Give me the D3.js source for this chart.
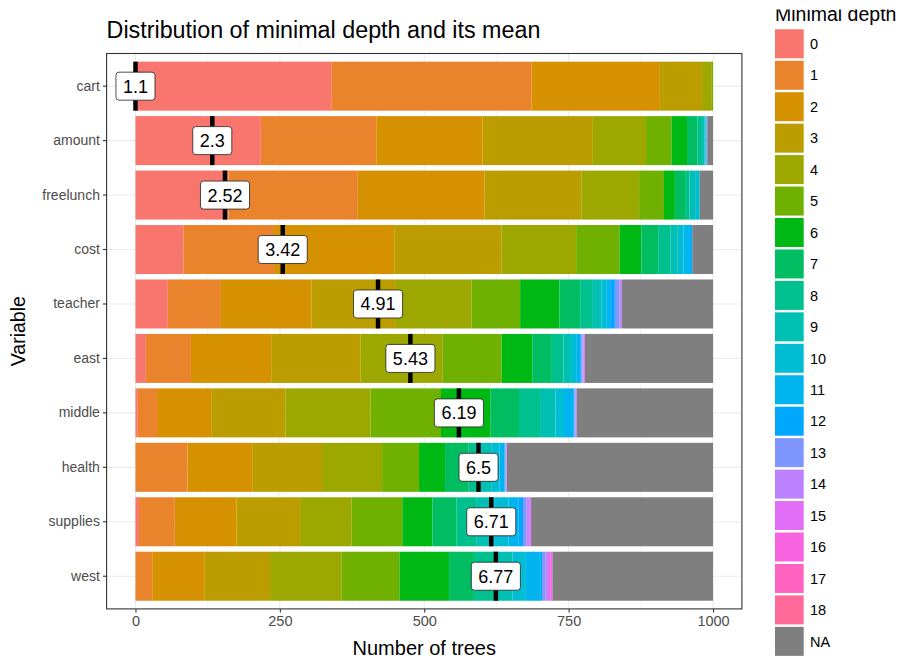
<!DOCTYPE html>
<html>
<head>
<meta charset="utf-8">
<script src="https://cdn.jsdelivr.net/npm/d3@7"></script>
<style>
  body { margin: 0; background: #fff; }
  svg text { font-family: "Liberation Sans", Arial, sans-serif; }
</style>
</head>
<body>
<svg id="chart" width="899" height="659"></svg>
<script>
'use strict';

// categories (top to bottom) and depth levels
var variables = ['cart', 'amount', 'freelunch', 'cost', 'teacher', 'east', 'middle', 'health', 'supplies', 'west'];
var depthLevels = ['0', '1', '2', '3', '4', '5', '6', '7', '8', '9', '10', '11', '12', '13', '14', '15', '16', '17', '18', 'NA'];

// number of trees per minimal depth (0..18, NA)
var cart      = [339, 347, 222, 73, 17, 2, 0, 0, 0, 0, 0, 0, 0, 0, 0, 0, 0, 0, 0, 0];
var amount    = [217, 200, 184, 191, 92, 44, 27, 18, 8, 4, 2, 1, 1, 1, 0, 0, 0, 0, 0, 10];
var freelunch = [161, 224, 219, 168, 100, 43, 19, 19, 6, 10, 8, 0, 0, 0, 0, 0, 0, 0, 0, 23];
var cost      = [83, 157, 208, 186, 129, 75, 38, 29, 21, 13, 10, 11, 4, 0, 0, 0, 0, 0, 0, 36];
var teacher   = [56, 92, 157, 146, 131, 84, 68, 36, 22, 15, 8, 7, 8, 8, 4, 0, 0, 0, 0, 158];
var east      = [18, 78, 139, 155, 142, 102, 53, 34, 20, 13, 9, 7, 2, 2, 2, 2, 0, 0, 0, 222];
var middle    = [4, 35, 92, 129, 147, 122, 86, 49, 38, 25, 15, 16, 2, 2, 2, 0, 0, 0, 0, 236];
var health    = [0, 90, 112, 121, 104, 64, 45, 41, 20, 20, 13, 9, 1, 1, 1, 1, 0, 0, 0, 357];
var supplies  = [6, 62, 107, 110, 89, 88, 52, 42, 35, 30, 25, 17, 8, 6, 5, 3, 0, 0, 0, 315];
var west      = [0, 29, 91, 113, 124, 100, 86, 43, 35, 32, 23, 26, 2, 6, 4, 5, 3, 0, 0, 278];

// mean minimal depth labels and where their markers sit (in trees)
var meanLabels = ['1.1', '2.3', '2.52', '3.42', '4.91', '5.43', '6.19', '6.5', '6.71', '6.77'];
var meanPos = [0, 133, 155, 255, 420, 476, 560, 594, 616, 624];

var xTicks = [0, 250, 500, 750, 1000];
var xMinor = [125, 375, 625, 875];

var countsByVar = [cart, amount, freelunch, cost, teacher, east, middle, health, supplies, west];

// ggplot-like hue palette (polar LUV, l = 65, c = 100)
function polarLuv(L, C, H) {
  var h = H * Math.PI / 180;
  var U = C * Math.cos(h), V = C * Math.sin(h);
  var Xn = 95.047, Yn = 100, Zn = 108.883;
  var un = 4 * Xn / (Xn + 15 * Yn + 3 * Zn), vn = 9 * Yn / (Xn + 15 * Yn + 3 * Zn);
  var Y = L > 8 ? Yn * Math.pow((L + 16) / 116, 3) : Yn * L / 903.3;
  var u = U / (13 * L) + un, v = V / (13 * L) + vn;
  var X = Y * 9 * u / (4 * v);
  var Z = Y * (12 - 3 * u - 20 * v) / (4 * v);
  var x = X / 100, y = Y / 100, z = Z / 100;
  var lin = [3.240479 * x - 1.537150 * y - 0.498535 * z,
             -0.969256 * x + 1.875992 * y + 0.041556 * z,
             0.055648 * x - 0.204043 * y + 1.057311 * z];
  var g = function (c) {
    c = c <= 0.0031308 ? 12.92 * c : 1.055 * Math.pow(c, 1 / 2.4) - 0.055;
    return Math.round(255 * Math.max(0, Math.min(1, c)));
  };
  return d3.rgb(g(lin[0]), g(lin[1]), g(lin[2])).formatHex();
}
var nHue = depthLevels.length - 1;
var palette = depthLevels.map(function (d, i) {
  return d === 'NA' ? '#7F7F7F' : polarLuv(65, 100, 15 + 360 * i / nHue);
});
var color = d3.scaleOrdinal().domain(depthLevels).range(palette);

// table for stacking
var table = variables.map(function (v, i) {
  var row = { variable: v };
  depthLevels.forEach(function (d, j) { row[d] = countsByVar[i][j]; });
  return row;
});
var series = d3.stack().keys(depthLevels)(table);

//Parameters for svg element
var panel = { left: 106.6, right: 741.9, top: 53.5, bottom: 608.9 };
var svg = d3.select('#chart');
svg.append('rect').attr('width', 899).attr('height', 659).attr('fill', '#fff');

//Scales
var xScale = d3.scaleLinear().domain([-50, 1050]).range([panel.left, panel.right]);
var yScale = d3.scaleBand().domain(variables).range([panel.top, panel.bottom])
  .paddingInner(0.1).paddingOuter(0.15);

//Grid
var grid = svg.append('g');
grid.selectAll('line.minor').data(xMinor).enter().append('line')
  .attr('x1', function (d) { return xScale(d); }).attr('x2', function (d) { return xScale(d); })
  .attr('y1', panel.top).attr('y2', panel.bottom)
  .attr('stroke', '#EBEBEB').attr('stroke-width', 0.6);
grid.selectAll('line.major').data(xTicks).enter().append('line')
  .attr('x1', function (d) { return xScale(d); }).attr('x2', function (d) { return xScale(d); })
  .attr('y1', panel.top).attr('y2', panel.bottom)
  .attr('stroke', '#EBEBEB').attr('stroke-width', 1.1);
grid.selectAll('line.ymajor').data(variables).enter().append('line')
  .attr('x1', panel.left).attr('x2', panel.right)
  .attr('y1', function (d) { return yScale(d) + yScale.bandwidth() / 2; })
  .attr('y2', function (d) { return yScale(d) + yScale.bandwidth() / 2; })
  .attr('stroke', '#EBEBEB').attr('stroke-width', 1.1);

//Bars
svg.append('g').selectAll('g').data(series).enter().append('g')
  .attr('fill', function (s) { return color(s.key); })
  .selectAll('rect').data(function (s) { return s; }).enter().append('rect')
  .attr('x', function (d) { return xScale(d[0]); })
  .attr('width', function (d) { return Math.max(0, xScale(d[1]) - xScale(d[0])); })
  .attr('y', function (d) { return yScale(d.data.variable); })
  .attr('height', yScale.bandwidth());

//Mean markers
svg.append('g').selectAll('line').data(variables).enter().append('line')
  .attr('x1', function (d, i) { return xScale(meanPos[i]); })
  .attr('x2', function (d, i) { return xScale(meanPos[i]); })
  .attr('y1', function (d) { return yScale(d); })
  .attr('y2', function (d) { return yScale(d) + yScale.bandwidth(); })
  .attr('stroke', '#000').attr('stroke-width', 4.5);

//Mean labels
var labels = svg.append('g').selectAll('g').data(variables).enter().append('g')
  .attr('transform', function (d, i) {
    return 'translate(' + xScale(meanPos[i]) + ',' + (yScale(d) + yScale.bandwidth() / 2) + ')';
  });
var labelRects = labels.append('rect').attr('fill', '#fff').attr('stroke', '#222')
  .attr('stroke-width', 0.8).attr('rx', 3).attr('ry', 3);
var labelTexts = labels.append('text').attr('text-anchor', 'middle').attr('dy', '0.36em')
  .style('font-size', '18px').attr('fill', '#000')
  .text(function (d, i) { return meanLabels[i]; });
labelTexts.each(function (d, i) {
  var w = this.getComputedTextLength() + 14;
  d3.select(labelRects.nodes()[i]).attr('x', -w / 2).attr('width', w).attr('y', -14).attr('height', 28);
});

//Panel border
svg.append('rect').attr('x', panel.left).attr('y', panel.top)
  .attr('width', panel.right - panel.left).attr('height', panel.bottom - panel.top)
  .attr('fill', 'none').attr('stroke', '#333').attr('stroke-width', 1.1);

//Draw x-axis
var xAxis = svg.append('g').attr('transform', 'translate(0,' + panel.bottom + ')')
  .call(d3.axisBottom(xScale).tickValues(xTicks).tickSize(3.7).tickPadding(3).tickFormat(d3.format('d')));
xAxis.select('.domain').remove();
xAxis.selectAll('line').attr('stroke', '#333').attr('stroke-width', 1.1);
xAxis.selectAll('text').style('font-size', '14.5px').attr('fill', '#4D4D4D');

//Draw y-axis
var yAxis = svg.append('g').attr('transform', 'translate(' + panel.left + ',0)')
  .call(d3.axisLeft(yScale).tickSize(3.7).tickPadding(3));
yAxis.select('.domain').remove();
yAxis.selectAll('line').attr('stroke', '#333').attr('stroke-width', 1.1);
yAxis.selectAll('text').style('font-size', '14px').attr('fill', '#4D4D4D');

//Axis titles
svg.append('text').attr('x', (panel.left + panel.right) / 2).attr('y', 655)
  .attr('text-anchor', 'middle').style('font-size', '20px').text('Number of trees');
svg.append('text').attr('transform', 'rotate(-90)')
  .attr('x', -(panel.top + panel.bottom) / 2).attr('y', 25)
  .attr('text-anchor', 'middle').style('font-size', '19.5px').text('Variable');

//Title
svg.append('text').attr('x', panel.left).attr('y', 38)
  .style('font-size', '23.3px').text('Distribution of minimal depth and its mean');

//Legend
var legend = svg.append('g').attr('transform', 'translate(775,0)');
svg.append('clipPath').attr('id', 'legend-clip').append('rect')
  .attr('x', 0).attr('y', 9.5).attr('width', 200).attr('height', 30);
legend.append('text').attr('x', 0).attr('y', 20.7).attr('clip-path', 'url(#legend-clip)')
  .style('font-size', '19.5px').text('Minimal depth');
var keys = legend.selectAll('g').data(depthLevels).enter().append('g')
  .attr('transform', function (d, i) { return 'translate(0,' + (29.3 + i * 31.45) + ')'; });
keys.append('rect').attr('width', 28.7).attr('height', 29)
  .attr('fill', function (d) { return color(d); });
keys.append('text').attr('x', 35).attr('y', 14.5).attr('dy', '0.36em')
  .style('font-size', '14.5px').text(function (d) { return d; });
</script>
</body>
</html>
